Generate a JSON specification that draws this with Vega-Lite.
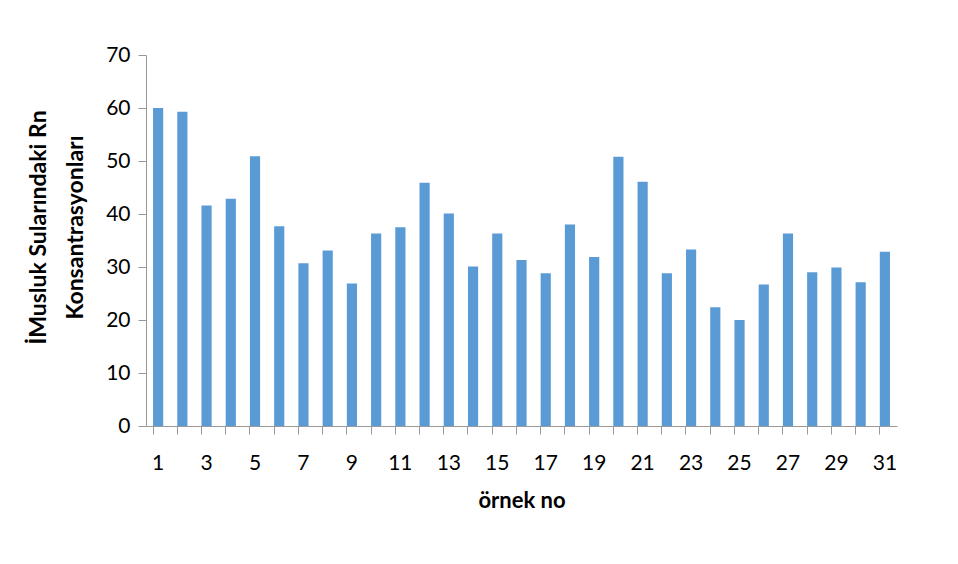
{
  "$schema": "https://vega.github.io/schema/vega-lite/v6.json",
  "autosize": "none",
  "width": 751,
  "height": 371,
  "padding": {"left": 146, "top": 55, "right": 61, "bottom": 138},
  "background": "white",
  "data": {"values": [
    {"no": 1, "rn": 60.0}, {"no": 2, "rn": 59.3}, {"no": 3, "rn": 41.6}, {"no": 4, "rn": 42.9},
    {"no": 5, "rn": 50.9}, {"no": 6, "rn": 37.7}, {"no": 7, "rn": 30.7}, {"no": 8, "rn": 33.1},
    {"no": 9, "rn": 26.9}, {"no": 10, "rn": 36.3}, {"no": 11, "rn": 37.5}, {"no": 12, "rn": 45.9},
    {"no": 13, "rn": 40.1}, {"no": 14, "rn": 30.1}, {"no": 15, "rn": 36.3}, {"no": 16, "rn": 31.3},
    {"no": 17, "rn": 28.8}, {"no": 18, "rn": 38.0}, {"no": 19, "rn": 31.9}, {"no": 20, "rn": 50.8},
    {"no": 21, "rn": 46.1}, {"no": 22, "rn": 28.8}, {"no": 23, "rn": 33.3}, {"no": 24, "rn": 22.4},
    {"no": 25, "rn": 20.0}, {"no": 26, "rn": 26.7}, {"no": 27, "rn": 36.3}, {"no": 28, "rn": 29.0},
    {"no": 29, "rn": 29.9}, {"no": 30, "rn": 27.1}, {"no": 31, "rn": 32.9}
  ]},
  "mark": {"type": "bar", "color": "#5B9BD5"},
  "encoding": {
    "x": {
      "field": "no", "type": "ordinal", "sort": "ascending",
      "scale": {"paddingInner": 0.58, "paddingOuter": 0.29},
      "axis": {
        "title": "örnek no",
        "titleFont": "Lato", "titleFontSize": 22, "titleFontWeight": "bold", "titleColor": "#000",
        "titlePadding": 17,
        "labelFont": "Lato", "labelFontSize": 21, "labelColor": "#000", "labelAngle": 0,
        "labelPadding": 18,
        "labelExpr": "datum.value % 2 == 1 ? datum.label : ''",
        "bandPosition": 0,
        "tickSize": 8, "tickColor": "#999", "domainColor": "#999",
        "grid": false
      }
    },
    "y": {
      "field": "rn", "type": "quantitative",
      "scale": {"domain": [0, 70], "nice": false},
      "axis": {
        "values": [0, 10, 20, 30, 40, 50, 60, 70],
        "title": ["İMusluk Sularındaki Rn", "Konsantrasyonları"],
        "titleFont": "Lato", "titleFontSize": 23, "titleFontWeight": "bold", "titleColor": "#000",
        "titleLineHeight": 37,
        "titlePadding": 18,
        "titleY": 172,
        "labelFont": "Lato", "labelFontSize": 21, "labelColor": "#000",
        "labelPadding": 8,
        "tickSize": 8, "tickColor": "#999", "domainColor": "#999",
        "grid": false
      }
    }
  },
  "config": {"view": {"stroke": null}}
}
